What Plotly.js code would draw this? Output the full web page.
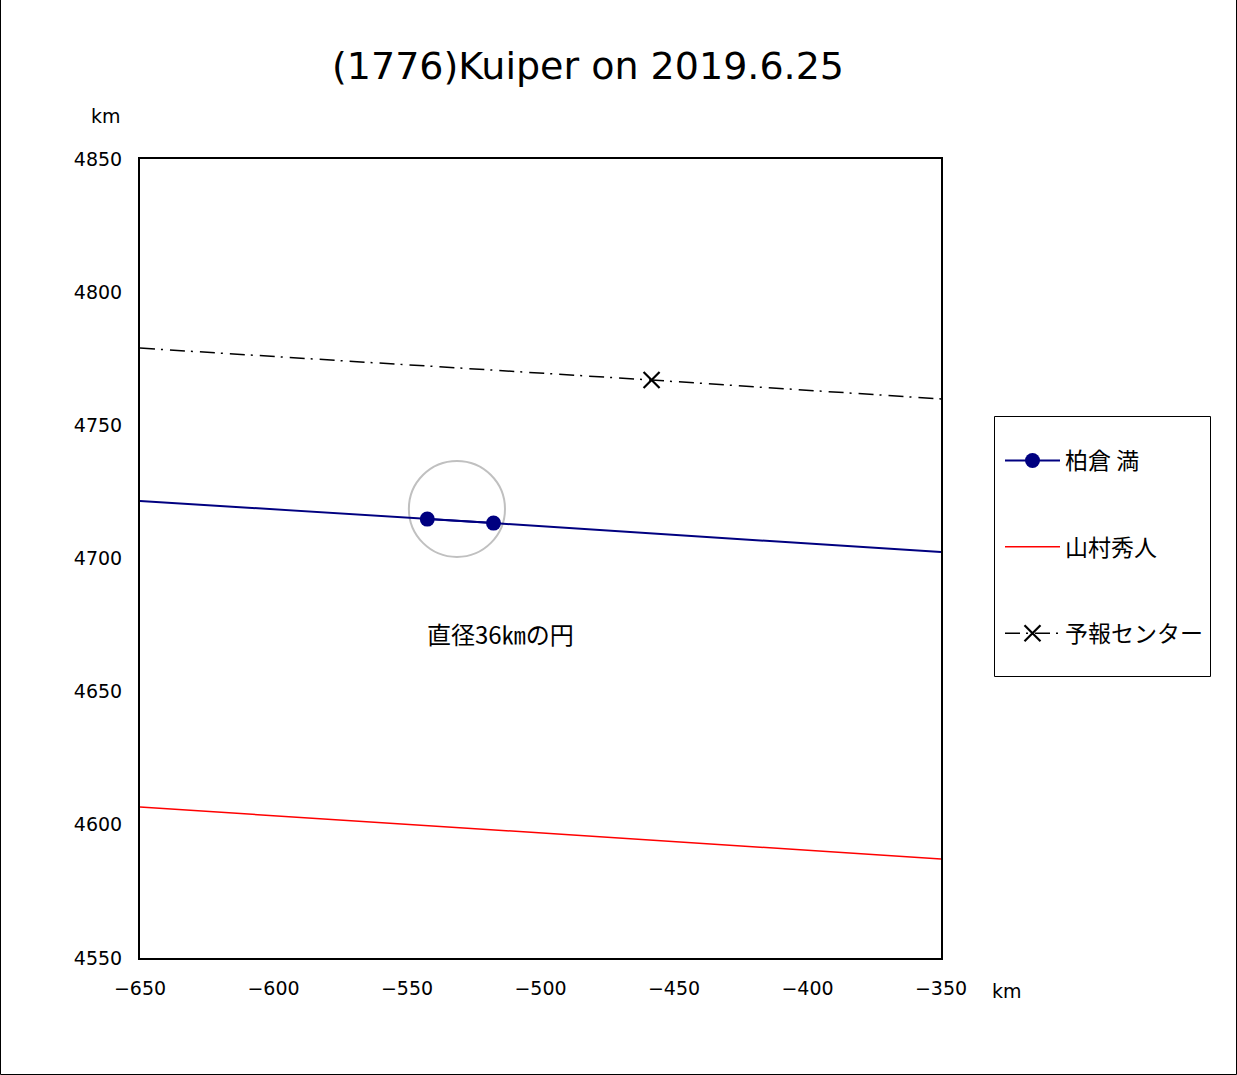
<!DOCTYPE html>
<html><head><meta charset="utf-8">
<script src="https://cdn.plot.ly/plotly-3.0.1.min.js"></script>
<style>body{margin:0;background:#fff}#chart{width:1237px;height:1075px}</style>
</head><body><div id="chart"></div>
<script>
// Data
const kashiwakuraX = [-650, -542.4, -517.6, -350];
const kashiwakuraY = [4721.6, 4714.8, 4713.3, 4702.4];
const kashiwakuraMarkerX = [-542.4, -517.6];
const kashiwakuraMarkerY = [4714.8, 4713.3];
const yamamuraX = [-650, -350];
const yamamuraY = [4606.7, 4587.2];
const centerX = [-650, -458.4, -350];
const centerY = [4779.0, 4767.0, 4759.9];
const centerMarkerX = [-458.4];
const centerMarkerY = [4767.0];
const circleCenter = [-531.3, 4718.6];
const circleDiameter = 36;
const names = ['柏倉 満', '山村秀人', '予報センター'];
const xTicks = [-650, -600, -550, -500, -450, -400, -350];
const yTicks = [4550, 4600, 4650, 4700, 4750, 4800, 4850];

const CJK = '"Noto Sans CJK JP", "Noto Sans", sans-serif';
const LAT = '"DejaVu Sans", "Liberation Sans", sans-serif';
const r = circleDiameter / 2;
const DASHDOT = '15px,6px,2px,7px';

const traces = [
  {x: kashiwakuraX, y: kashiwakuraY, mode: 'lines', line: {color: '#000080', width: 2},
   name: names[0], showlegend: false, hoverinfo: 'skip'},
  {x: kashiwakuraMarkerX, y: kashiwakuraMarkerY, mode: 'lines+markers', name: names[0], legendgroup: 'a',
   line: {color: '#000080', width: 2},
   marker: {color: '#000080', size: 15, symbol: 'circle'}},
  {x: yamamuraX, y: yamamuraY, mode: 'lines', name: names[1], legendgroup: 'b',
   line: {color: '#ff0000', width: 1.5}},
  {x: centerX, y: centerY, mode: 'lines', name: names[2], showlegend: false,
   line: {color: '#000000', width: 1.5, dash: DASHDOT}},
  {x: centerMarkerX, y: centerMarkerY, mode: 'lines+markers', name: names[2], legendgroup: 'c',
   line: {color: '#000000', width: 1.5, dash: DASHDOT},
   marker: {color: '#000000', size: 16, symbol: 'x-thin-open', line: {color: '#000', width: 2.2}}}
];

const layout = {
  width: 1237, height: 1075,
  margin: {l: 140, r: 296, t: 159, b: 117},
  paper_bgcolor: '#fff', plot_bgcolor: '#fff',
  font: {family: LAT, color: '#000', size: 19},
  title: {text: '(1776)Kuiper on 2019.6.25', font: {family: LAT, size: 38, color: '#000'},
          x: 588/1237, xanchor: 'center', y: 1 - 66/1075, yanchor: 'middle'},
  showlegend: true,
  legend: {x: (1000-140)/801, xanchor: 'left', y: (958-439)/799, yanchor: 'top',
           bgcolor: 'rgba(0,0,0,0)', borderwidth: 0, font: {family: CJK, size: 23},
           traceorder: 'grouped', tracegroupgap: 53.5, itemwidth: 55},
  xaxis: {range: [-650, -350], tickvals: xTicks, showgrid: false, zeroline: false,
          showline: true, linecolor: '#000', linewidth: 2, mirror: true,
          ticks: 'outside', ticklen: 12, tickcolor: 'rgba(0,0,0,0)', tickfont: {family: LAT, size: 19}},
  yaxis: {range: [4550, 4850], tickvals: yTicks, showgrid: false, zeroline: false,
          showline: true, linecolor: '#000', linewidth: 2, mirror: true,
          ticks: 'outside', ticklen: 12, tickcolor: 'rgba(0,0,0,0)', tickfont: {family: LAT, size: 19}},
  shapes: [
    {type: 'circle', xref: 'x', yref: 'y', x0: circleCenter[0] - r, x1: circleCenter[0] + r,
     y0: circleCenter[1] - r, y1: circleCenter[1] + r, line: {color: '#c0c0c0', width: 2}, layer: 'below'},
    {type: 'rect', xref: 'paper', yref: 'paper', x0: -139.5/801, x1: 1096.5/801,
     y0: -116.5/799, y1: 958.5/799, line: {color: '#000', width: 1}},
    {type: 'rect', xref: 'paper', yref: 'paper', x0: (994.5-140)/801, x1: (1210.5-140)/801,
     y0: (958-676.5)/799, y1: (958-416.5)/799, line: {color: '#000', width: 1}}
  ],
  annotations: [
    {text: '直径36㎞の円', x: -515, y: 4672, xref: 'x', yref: 'y', showarrow: false,
     xanchor: 'center', yanchor: 'middle', font: {family: CJK, size: 24}},
    {text: 'km', xref: 'paper', yref: 'paper', x: (106-140)/801, y: (958-116)/799, showarrow: false,
     xanchor: 'center', yanchor: 'middle', font: {family: LAT, size: 19}},
    {text: 'km', xref: 'paper', yref: 'paper', x: (1007-140)/801, y: (958-991)/799, showarrow: false,
     xanchor: 'center', yanchor: 'middle', font: {family: LAT, size: 19}}
  ]
};

Plotly.newPlot('chart', traces, layout, {displayModeBar: false, staticPlot: true});
</script></body></html>
